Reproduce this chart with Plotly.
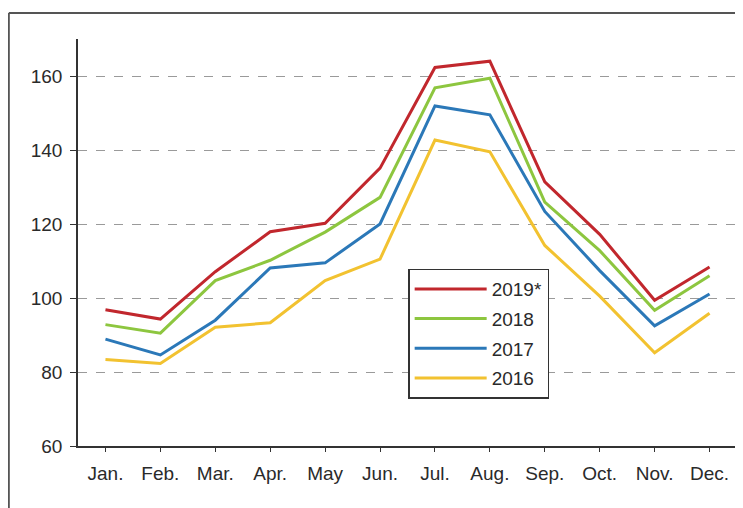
import plotly.graph_objects as go

months = ["Jan.", "Feb.", "Mar.", "Apr.", "May", "Jun.", "Jul.", "Aug.", "Sep.", "Oct.", "Nov.", "Dec."]
series_names = ["2019*", "2018", "2017", "2016"]
v2019 = [96.8, 94.3, 107.1, 117.9, 120.2, 135.1, 162.3, 164.0, 131.4, 117.2, 99.4, 108.4]
v2018 = [92.8, 90.5, 104.7, 110.2, 117.8, 127.2, 156.8, 159.4, 125.9, 112.8, 96.7, 106.0]
v2017 = [88.9, 84.6, 94.0, 108.1, 109.5, 120.0, 151.9, 149.5, 123.4, 107.4, 92.5, 101.1]
v2016 = [83.4, 82.3, 92.1, 93.3, 104.7, 110.5, 142.7, 139.5, 114.2, 100.5, 85.2, 95.9]
colors = ["#C1272D", "#8DC63F", "#2B78B8", "#F2C230"]
yticks = [60, 80, 100, 120, 140, 160]

fig = go.Figure()
for i, (name, vals) in enumerate(zip(series_names, [v2019, v2018, v2017, v2016])):
    fig.add_trace(go.Scatter(
        x=months, y=vals, name=name, mode="lines",
        line=dict(color=colors[i], width=3),
        legendgroup=name,
    ))

fig.update_layout(
    width=735, height=500,
    margin=dict(l=70, r=6, t=31, b=62),
    paper_bgcolor="white", plot_bgcolor="white",
    font=dict(family="Liberation Sans, Arial, sans-serif", size=19, color="#2a2a2a"),
    showlegend=True,
    legend=dict(
        x=0.501, y=0.436, xanchor="left", yanchor="top",
        bgcolor="white", bordercolor="#333333", borderwidth=1.5,
        font=dict(size=19, color="#2a2a2a"),
        tracegroupgap=2, itemwidth=72,
    ),
    xaxis=dict(
        type="category", range=[-0.5, 11.5],
        showline=True, linecolor="#333333", linewidth=1.5,
        ticks="outside", ticklen=4, tickcolor="#333333",
        showgrid=False, zeroline=False,
        ticklabelstandoff=5,
        tickfont=dict(size=19, color="#2a2a2a"),
    ),
    yaxis=dict(
        range=[60, 170], tickvals=yticks,
        showline=True, linecolor="#333333", linewidth=1.5,
        ticks="outside", ticklen=6, tickcolor="#333333",
        showgrid=True, gridcolor="#9a9a9a", griddash="dash", gridwidth=1.2,
        zeroline=False,
        ticklabelstandoff=4,
        tickfont=dict(size=19, color="#2a2a2a"),
    ),
)

# outer frame of the original picture
fig.add_shape(type="line", xref="paper", yref="paper",
              x0=-0.105, x1=1.02, y0=1.064, y1=1.064,
              line=dict(color="#555555", width=2))
fig.add_shape(type="line", xref="paper", yref="paper",
              x0=-0.105, x1=-0.105, y0=1.064, y1=-0.2,
              line=dict(color="#555555", width=2))

fig.write_html("out.html")
